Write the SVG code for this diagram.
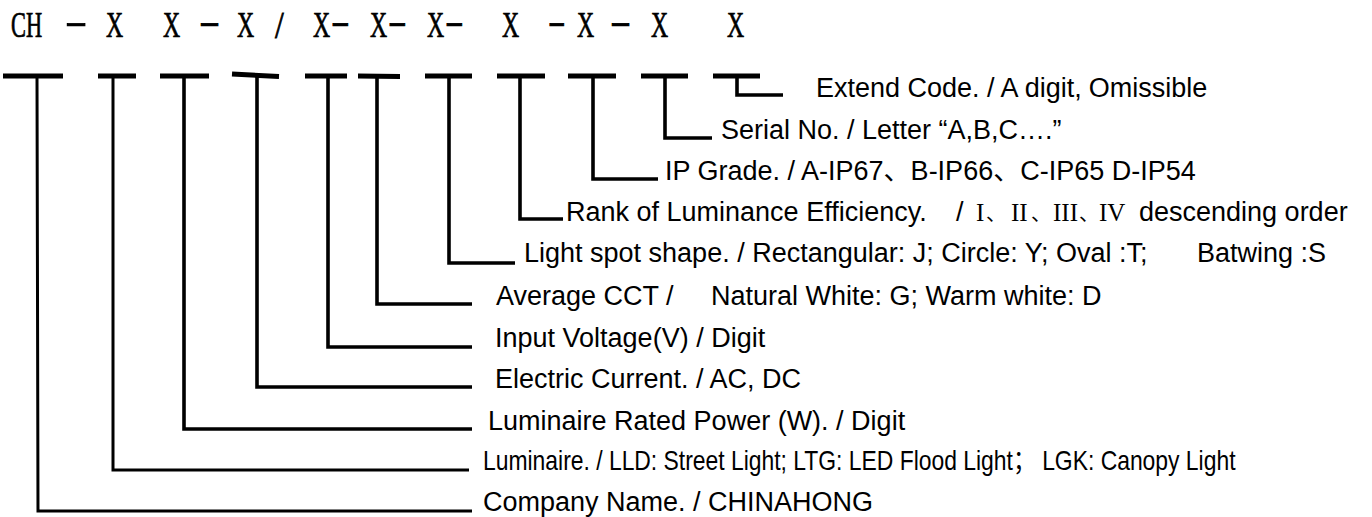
<svg xmlns="http://www.w3.org/2000/svg" width="1372" height="517" viewBox="0 0 1372 517">
<style>
.bar{stroke:#000;stroke-width:5;fill:none}
.conn{stroke:#000;stroke-width:3.6;fill:none;stroke-linejoin:miter;stroke-linecap:butt}
.thin{stroke-width:3}
.lbl{font-family:"Liberation Sans",Arial,"Noto Sans CJK SC",sans-serif;font-size:27px;fill:#000}
.code{font-family:"Liberation Serif","Times New Roman",serif;font-size:35px;fill:#000;stroke:#000;stroke-width:0.7}
.rn{font-family:"Liberation Serif","Times New Roman",serif;font-size:25px}
.cjks{font-family:"Noto Sans CJK SC",sans-serif;font-size:20px}
</style>
<rect width="1372" height="517" fill="#fff"/>
<g id="code">
<text class="code" transform="translate(11,37) scale(0.64,1)">CH</text>
<text class="code" transform="translate(65,33) scale(1.9,1)">-</text>
<text class="code" transform="translate(106,37) scale(0.68,1)">X</text>
<text class="code" transform="translate(163,37) scale(0.68,1)">X</text>
<text class="code" transform="translate(199,33) scale(1.8,1)">-</text>
<text class="code" transform="translate(237,37) scale(0.68,1)">X</text>
<text class="code" transform="translate(275,38) scale(0.9,1.1)">/</text>
<text class="code" transform="translate(313,37) scale(0.68,1)">X</text>
<text class="code" transform="translate(331,33) scale(1.6,1)">-</text>
<text class="code" transform="translate(370,37) scale(0.68,1)">X</text>
<text class="code" transform="translate(388,33) scale(1.6,1)">-</text>
<text class="code" transform="translate(427,37) scale(0.68,1)">X</text>
<text class="code" transform="translate(445,33) scale(1.6,1)">-</text>
<text class="code" transform="translate(502,37) scale(0.68,1)">X</text>
<text class="code" transform="translate(548,33) scale(1.5,1)">-</text>
<text class="code" transform="translate(577,37) scale(0.68,1)">X</text>
<text class="code" transform="translate(610,33) scale(1.8,1)">-</text>
<text class="code" transform="translate(651,37) scale(0.68,1)">X</text>
<text class="code" transform="translate(727,37) scale(0.68,1)">X</text>
</g>
<g id="connectors">
<line class="bar" x1="3" y1="76" x2="63" y2="76"/>
<line class="bar" x1="98" y1="76" x2="136" y2="76"/>
<line class="bar" x1="160" y1="76" x2="209" y2="76"/>
<line class="bar" x1="232" y1="74" x2="279" y2="76.5"/>
<line class="bar" x1="305" y1="76" x2="347" y2="76"/>
<line class="bar" x1="358" y1="76" x2="400" y2="76.5"/>
<line class="bar" x1="425" y1="76" x2="472" y2="76"/>
<line class="bar" x1="497" y1="76" x2="545" y2="76"/>
<line class="bar" x1="568" y1="76" x2="616" y2="76"/>
<line class="bar" x1="641" y1="76" x2="688" y2="76"/>
<line class="bar" x1="713" y1="76" x2="760" y2="76"/>
<path class="conn thin" d="M37,76 L38,511 L472,511"/>
<path class="conn thin" d="M113,76 L113,470 L469,470"/>
<path class="conn" d="M184,76 L184,429 L472,429"/>
<path class="conn" d="M257,76 L257,387 L472,387"/>
<path class="conn" d="M328,76 L328,347 L472,347"/>
<path class="conn" d="M377,76 L377,304 L472,304"/>
<path class="conn" d="M449,76 L449,263 L515,263"/>
<path class="conn" d="M520,76 L520,219 L563,219"/>
<path class="conn" d="M593,76 L593,179 L658,179"/>
<path class="conn" d="M665,76 L665,138 L712,138"/>
<path class="conn" d="M737,76 L737,95 L783,95"/>
</g>
<g id="node-extend"><text class="lbl" x="816" y="97">Extend Code. / A digit,<tspan dx="7">Omissible</tspan></text></g>
<g id="node-serial"><text class="lbl" x="721" y="139">Serial No. / Letter “A,B,C….”</text></g>
<g id="node-ip"><text class="lbl" x="665" y="180">IP Grade. / A-IP67、B-IP66、C-IP65 D-IP54</text></g>
<g id="node-rank"><text class="lbl" x="566" y="221">Rank of Luminance Efficiency.<tspan x="956">/</tspan><tspan class="rn" x="976">I</tspan><tspan class="cjks" x="986">、</tspan><tspan class="rn" x="1011">II</tspan><tspan class="cjks" x="1031">、</tspan><tspan class="rn" x="1053">III</tspan><tspan class="cjks" x="1079">、</tspan><tspan class="rn" x="1099">IV</tspan><tspan x="1139">descending order</tspan></text></g>
<g id="node-spot"><text class="lbl" x="524" y="262">Light spot shape. / Rectangular: J; Circle: Y; Oval :T;<tspan x="1197">Batwing :S</tspan></text></g>
<g id="node-cct"><text class="lbl" x="496" y="305">Average CCT /<tspan x="711">Natural White: G; Warm white: D</tspan></text></g>
<g id="node-voltage"><text class="lbl" x="495" y="347">Input Voltage(V) / Digit</text></g>
<g id="node-current"><text class="lbl" x="495" y="388">Electric Current. / AC, DC</text></g>
<g id="node-power"><text class="lbl" x="488" y="430">Luminaire Rated Power (W). / Digit</text></g>
<g id="node-luminaire"><text class="lbl" font-size="26" transform="translate(483,470) scale(0.848,1)">Luminaire. / LLD: Street Light; LTG: LED Flood Light； LGK: Canopy Light</text></g>
<g id="node-company"><text class="lbl" x="483" y="511">Company Name. / CHINAHONG</text></g>
</svg>
